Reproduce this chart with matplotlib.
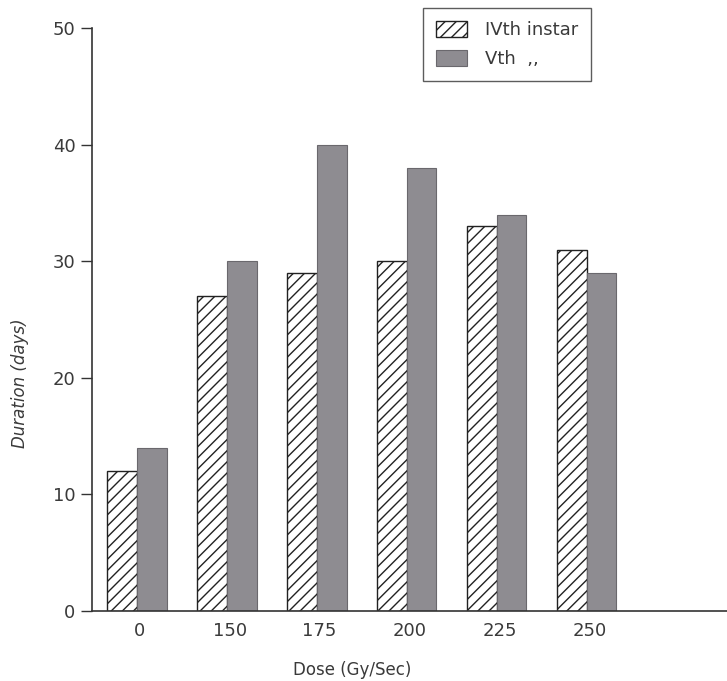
import matplotlib
matplotlib.use("Agg")
import matplotlib.pyplot as plt
import numpy as np

doses = ["0", "150", "175", "200", "225", "250"]
ivth_instar = [12, 27, 29, 30, 33, 31]
vth_instar = [14, 30, 40, 38, 34, 29]
y_ticks = [0, 10, 20, 30, 40, 50]

plt.rcParams['font.family'] = ['DejaVu Sans']
plt.rcParams['hatch.linewidth'] = 1.0

fig = plt.figure(figsize=(7.27, 6.81), dpi=100)
ax = fig.add_axes([92/727, 70/681, 635/727, 583/681])

x = np.arange(len(doses))
w = 0.33
text_col = '#3a3a3a'
ax.bar(x - w/2, ivth_instar, width=w, facecolor='white', edgecolor='#222222',
       hatch='///', linewidth=1.0, label='IVth instar')
ax.bar(x + w/2, vth_instar, width=w, facecolor='#8e8c91', edgecolor='#6a686d',
       linewidth=0.8, label='Vth  ,,')

ax.set_xlim(-0.5, 6.56)
ax.set_ylim(0, 50)
ax.set_yticks(y_ticks)
ax.set_yticklabels([str(v) for v in y_ticks], fontsize=13, color=text_col)
ax.set_xticks(x + 0.03)
ax.set_xticklabels(doses, fontsize=13, color=text_col)
ax.tick_params(axis='x', length=0, pad=8)
ax.tick_params(axis='y', length=8, width=1.0, color='#333333', pad=4)

for s in ['top', 'right']:
    ax.spines[s].set_visible(False)
for s in ['left', 'bottom']:
    ax.spines[s].set_color('#333333')
    ax.spines[s].set_linewidth(1.2)

ax.set_xlabel('Dose (Gy/Sec)', fontsize=12, color=text_col, labelpad=8)
ax.xaxis.set_label_coords(0.41, -0.085)
ax.set_ylabel('Duration (days)', fontsize=12, color=text_col, style='italic')
ax.yaxis.set_label_coords(-0.1, 0.39)

leg = fig.legend(loc='upper center', bbox_to_anchor=(507/727, 1 - 8/681),
                 fontsize=13, frameon=True, fancybox=False, edgecolor='#333333',
                 handlelength=1.75, handleheight=1.0, borderpad=0.7,
                 handletextpad=1.0, labelspacing=0.6, borderaxespad=0)
leg.get_frame().set_linewidth(1.0)
for t in leg.get_texts():
    t.set_color(text_col)

fig.savefig('out.png', dpi=100)
